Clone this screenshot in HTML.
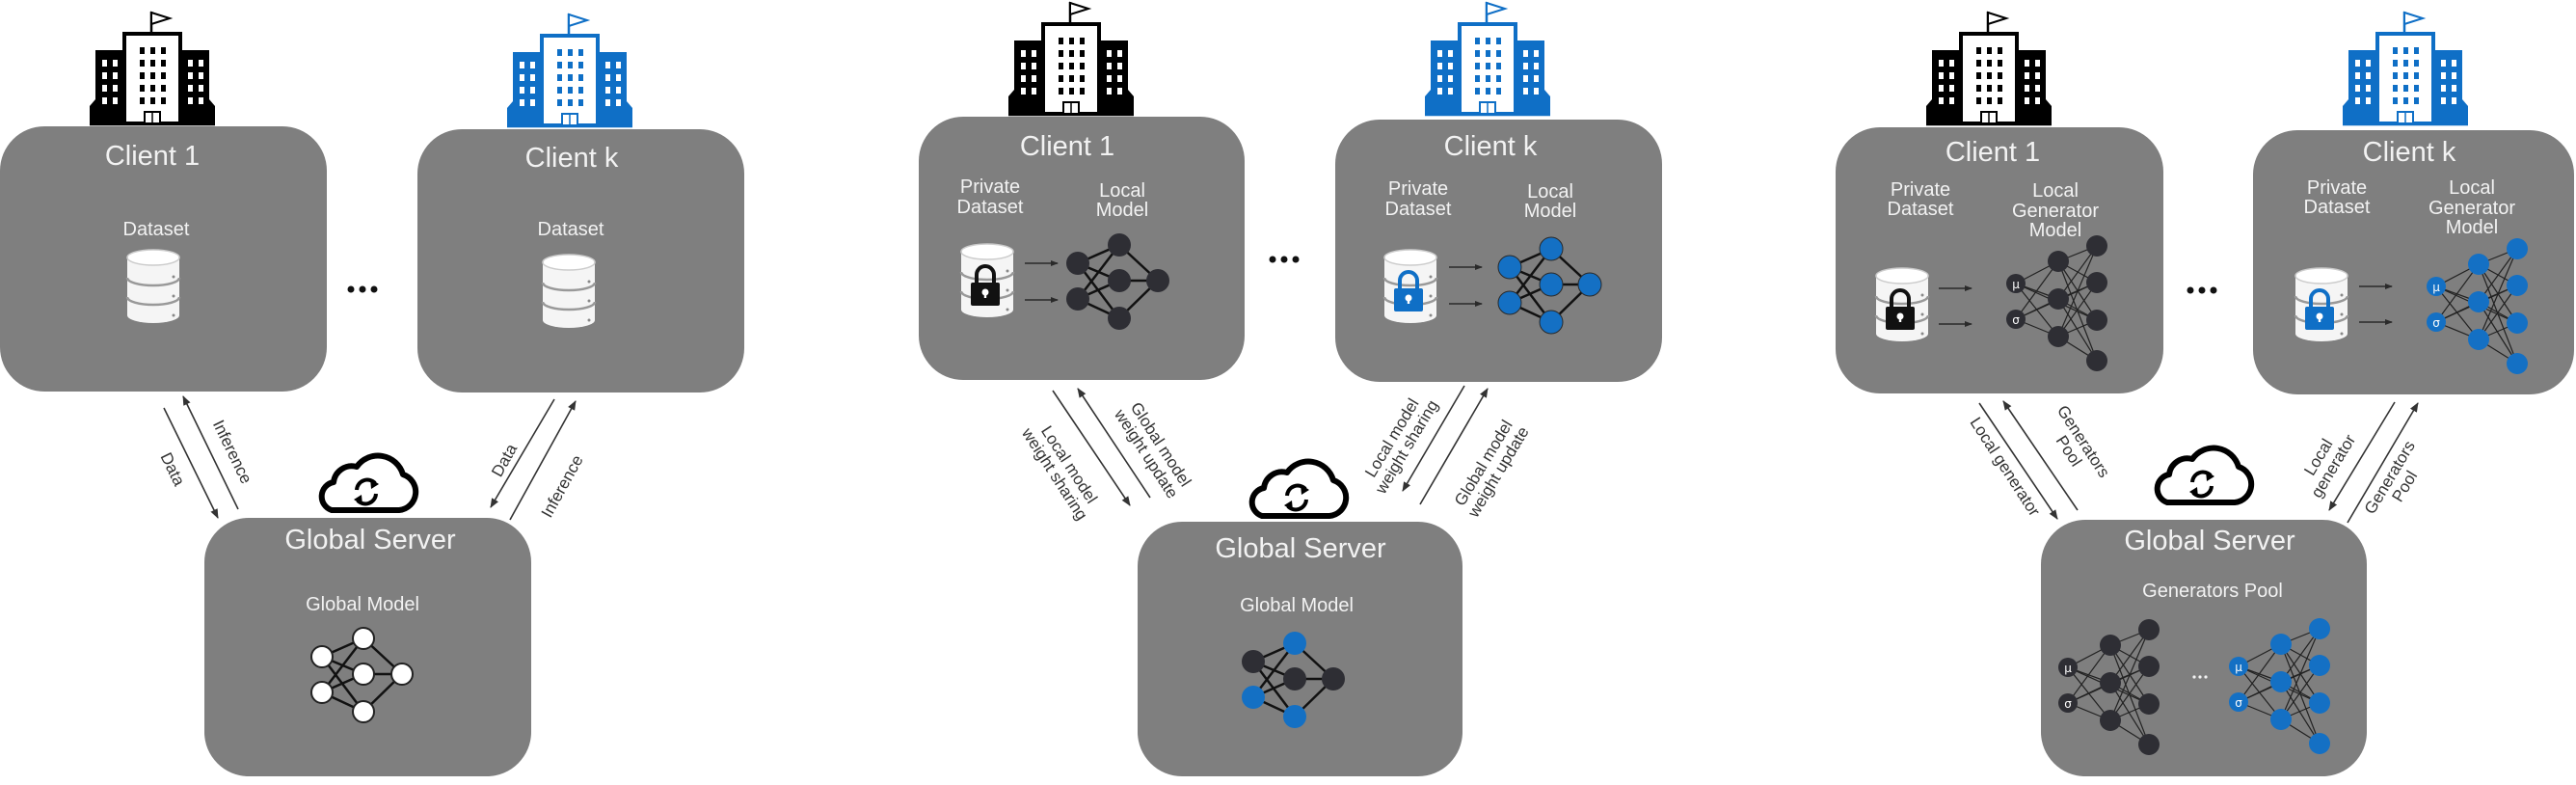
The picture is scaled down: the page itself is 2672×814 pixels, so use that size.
<!DOCTYPE html>
<html><head><meta charset="utf-8"><style>
html,body{margin:0;padding:0;background:#fff;}
svg{display:block;}
.t{font-family:"Liberation Sans",sans-serif;fill:#f2f2f2;text-anchor:middle;}
.h{font-size:29px;}
.s{font-size:20px;}
.l{font-family:"Liberation Sans",sans-serif;fill:#333;font-size:17px;text-anchor:middle;}
.box{fill:#7f7f7f;}
.ar{stroke:#333;stroke-width:1.6;fill:none;marker-end:url(#ah);}
</style></head><body>
<svg width="2672" height="814" viewBox="0 0 2672 814" xmlns="http://www.w3.org/2000/svg">
<defs>
<marker id="ah" markerWidth="10" markerHeight="10" refX="9" refY="5" orient="auto" markerUnits="userSpaceOnUse">
<path d="M0,1 L10,5 L0,9 Z" fill="#333"/></marker>
<marker id="ah2" markerWidth="8" markerHeight="8" refX="7" refY="4" orient="auto" markerUnits="userSpaceOnUse">
<path d="M0,1 L8,4 L0,7 Z" fill="#2a2a2a"/></marker>
<g id="bld">
<line x1="64" y1="0" x2="64" y2="22" stroke="currentColor" stroke-width="2.5"/>
<path d="M64,1 L83,7 L64,13 Z" fill="#fff" stroke="currentColor" stroke-width="2"/>
<rect x="36" y="23" width="58" height="93" fill="#fff" stroke="currentColor" stroke-width="4"/>
<path d="M6,40 H34 V116 H0 V98 L6,91 Z" fill="currentColor"/>
<path d="M96,40 H124 V91 L130,98 V116 H96 Z" fill="currentColor"/>
<g fill="#fff">
<rect x="13" y="50" width="5" height="7"/><rect x="24" y="50" width="5" height="7"/>
<rect x="13" y="63" width="5" height="7"/><rect x="24" y="63" width="5" height="7"/>
<rect x="13" y="76" width="5" height="7"/><rect x="24" y="76" width="5" height="7"/>
<rect x="13" y="89" width="5" height="7"/><rect x="24" y="89" width="5" height="7"/>
<rect x="102" y="50" width="5" height="7"/><rect x="113" y="50" width="5" height="7"/>
<rect x="102" y="63" width="5" height="7"/><rect x="113" y="63" width="5" height="7"/>
<rect x="102" y="76" width="5" height="7"/><rect x="113" y="76" width="5" height="7"/>
<rect x="102" y="89" width="5" height="7"/><rect x="113" y="89" width="5" height="7"/>
</g>
<g fill="currentColor">
<rect x="52" y="37" width="5" height="7"/><rect x="63" y="37" width="5" height="7"/><rect x="74" y="37" width="5" height="7"/>
<rect x="52" y="50" width="5" height="7"/><rect x="63" y="50" width="5" height="7"/><rect x="74" y="50" width="5" height="7"/>
<rect x="52" y="63" width="5" height="7"/><rect x="63" y="63" width="5" height="7"/><rect x="74" y="63" width="5" height="7"/>
<rect x="52" y="76" width="5" height="7"/><rect x="63" y="76" width="5" height="7"/><rect x="74" y="76" width="5" height="7"/>
<rect x="52" y="89" width="5" height="7"/><rect x="63" y="89" width="5" height="7"/><rect x="74" y="89" width="5" height="7"/>
</g>
<rect x="57" y="104" width="16" height="12" fill="#fff" stroke="currentColor" stroke-width="2"/>
<line x1="65" y1="104" x2="65" y2="116" stroke="currentColor" stroke-width="1.5"/>
<line x1="0" y1="117" x2="130" y2="117" stroke="currentColor" stroke-width="2.5"/>
</g>
<g id="db">
<path d="M-27,-30 V30 A27,8 0 0 0 27,30 V-30 Z" fill="#f5f5f5"/>
<ellipse cx="0" cy="-30" rx="27" ry="8" fill="#fff" stroke="#ccc" stroke-width="1.5"/>
<path d="M-27,-9 A27,8 0 0 0 27,-9" fill="none" stroke="#999" stroke-width="2.5"/>
<path d="M-27,11 A27,8 0 0 0 27,11" fill="none" stroke="#999" stroke-width="2.5"/>
<circle cx="21" cy="-10" r="1.5" fill="#888"/><circle cx="21" cy="10" r="1.5" fill="#888"/><circle cx="21" cy="30" r="1.5" fill="#888"/>
</g>
<g id="lock">
<path d="M-9,-4 V-12 A9,9 0 0 1 9,-12 V-4" fill="none" stroke="currentColor" stroke-width="4"/>
<rect x="-15" y="-4" width="30" height="24" rx="2" fill="currentColor"/>
<circle cx="0" cy="6" r="3.5" fill="#fff"/><rect x="-1.2" y="6" width="2.4" height="6" fill="#fff"/>
</g>
<g id="cloud">
<path d="M-36,27 H34 A19,19 0 0 0 38,-10 A27,27 0 0 0 -10,-18 A19,19 0 0 0 -34,-2 A15,15 0 0 0 -36,27 Z" fill="#fff" stroke="#000" stroke-width="6" stroke-linejoin="round"/>
<path d="M-10,6 A11,11 0 0 1 9,-1" fill="none" stroke="#000" stroke-width="4"/>
<path d="M4,-6 L13,0 L5,5 Z" fill="#000"/>
<path d="M10,10 A11,11 0 0 1 -9,17" fill="none" stroke="#000" stroke-width="4"/>
<path d="M-4,22 L-13,16 L-5,11 Z" fill="#000"/>
</g>
<g id="e1" stroke="#111" stroke-width="2.5">
<line x1="0" y1="0" x2="43" y2="-19"/><line x1="0" y1="0" x2="43" y2="18"/><line x1="0" y1="0" x2="43" y2="57"/>
<line x1="0" y1="37" x2="43" y2="-19"/><line x1="0" y1="37" x2="43" y2="18"/><line x1="0" y1="37" x2="43" y2="57"/>
<line x1="43" y1="-19" x2="83" y2="18"/><line x1="43" y1="18" x2="83" y2="18"/><line x1="43" y1="57" x2="83" y2="18"/>
</g>
<g id="e2" stroke="#222" stroke-width="1.2">
<line x1="0" y1="0" x2="44" y2="-23"/><line x1="0" y1="0" x2="44" y2="16"/><line x1="0" y1="0" x2="44" y2="55"/>
<line x1="0" y1="37" x2="44" y2="-23"/><line x1="0" y1="37" x2="44" y2="16"/><line x1="0" y1="37" x2="44" y2="55"/>
<line x1="0" y1="0" x2="84" y2="38"/><line x1="0" y1="37" x2="84" y2="-1"/>
<line x1="44" y1="-23" x2="84" y2="-39"/><line x1="44" y1="-23" x2="84" y2="-1"/><line x1="44" y1="-23" x2="84" y2="38"/><line x1="44" y1="-23" x2="84" y2="80"/>
<line x1="44" y1="16" x2="84" y2="-39"/><line x1="44" y1="16" x2="84" y2="-1"/><line x1="44" y1="16" x2="84" y2="38"/><line x1="44" y1="16" x2="84" y2="80"/>
<line x1="44" y1="55" x2="84" y2="-39"/><line x1="44" y1="55" x2="84" y2="-1"/><line x1="44" y1="55" x2="84" y2="38"/><line x1="44" y1="55" x2="84" y2="80"/>
</g>
</defs>

<!-- ================= PANEL 1 ================= -->
<use href="#bld" x="93" y="12" color="#000"/>
<use href="#bld" x="526" y="14" color="#0f6fc6"/>
<rect class="box" x="0" y="131" width="339" height="275" rx="46"/>
<rect class="box" x="433" y="134" width="339" height="273" rx="46"/>
<rect class="box" x="212" y="537" width="339" height="268" rx="46"/>
<text class="t h" x="158" y="171">Client 1</text>
<text class="t s" x="162" y="244">Dataset</text>
<use href="#db" x="159" y="297"/>
<text class="t h" x="593" y="173">Client k</text>
<text class="t s" x="592" y="244">Dataset</text>
<use href="#db" x="590" y="302"/>
<g fill="#111"><circle cx="364" cy="300" r="3.5"/><circle cx="376" cy="300" r="3.5"/><circle cx="388" cy="300" r="3.5"/></g>
<use href="#cloud" x="380" y="502"/>
<text class="t h" x="384" y="569">Global Server</text>
<text class="t s" x="376" y="633">Global Model</text>
<g transform="translate(334,681)">
<use href="#e1"/>
<g fill="#fff" stroke="#222" stroke-width="2">
<circle cx="0" cy="0" r="11"/><circle cx="0" cy="37" r="11"/><circle cx="43" cy="-19" r="11"/><circle cx="43" cy="18" r="11"/><circle cx="43" cy="57" r="11"/><circle cx="83" cy="18" r="11"/></g>
</g>
<line class="ar" x1="170" y1="423" x2="226" y2="537"/>
<line class="ar" x1="247" y1="528" x2="190" y2="411"/>
<text class="l" transform="translate(174,489) rotate(64)">Data</text>
<text class="l" transform="translate(236,471) rotate(64)">Inference</text>
<line class="ar" x1="575" y1="414" x2="509" y2="526"/>
<line class="ar" x1="529" y1="539" x2="597" y2="416"/>
<text class="l" transform="translate(528,480) rotate(-61)">Data</text>
<text class="l" transform="translate(588,507) rotate(-61)">Inference</text>

<!-- ================= PANEL 2 ================= -->
<use href="#bld" x="1046" y="2" color="#000"/>
<use href="#bld" x="1478" y="2" color="#0f6fc6"/>
<rect class="box" x="953" y="121" width="338" height="273" rx="46"/>
<rect class="box" x="1385" y="124" width="339" height="272" rx="46"/>
<rect class="box" x="1180" y="541" width="337" height="264" rx="46"/>
<text class="t h" x="1107" y="161">Client 1</text>
<text class="t s" x="1027" y="200">Private</text>
<text class="t s" x="1027" y="221">Dataset</text>
<text class="t s" x="1164" y="204">Local</text>
<text class="t s" x="1164" y="224">Model</text>
<use href="#db" x="1024" y="291"/>
<use href="#lock" x="1022" y="297" color="#111"/>
<line x1="1063" y1="273" x2="1097" y2="273" stroke="#2a2a2a" stroke-width="1.5" marker-end="url(#ah2)"/>
<line x1="1063" y1="311" x2="1097" y2="311" stroke="#2a2a2a" stroke-width="1.5" marker-end="url(#ah2)"/>
<g transform="translate(1118,273)">
<use href="#e1"/>
<g fill="#2e2e34"><circle cx="0" cy="0" r="12"/><circle cx="0" cy="37" r="12"/><circle cx="43" cy="-19" r="12"/><circle cx="43" cy="18" r="12"/><circle cx="43" cy="57" r="12"/><circle cx="83" cy="18" r="12"/></g>
</g>
<text class="t h" x="1546" y="161">Client k</text>
<text class="t s" x="1471" y="202">Private</text>
<text class="t s" x="1471" y="223">Dataset</text>
<text class="t s" x="1608" y="205">Local</text>
<text class="t s" x="1608" y="225">Model</text>
<use href="#db" x="1463" y="297"/>
<use href="#lock" x="1461" y="303" color="#0f6fc6"/>
<line x1="1503" y1="277" x2="1537" y2="277" stroke="#2a2a2a" stroke-width="1.5" marker-end="url(#ah2)"/>
<line x1="1503" y1="315" x2="1537" y2="315" stroke="#2a2a2a" stroke-width="1.5" marker-end="url(#ah2)"/>
<g transform="translate(1566,277)">
<use href="#e1"/>
<g fill="#1470c4" stroke="#2a2a2a" stroke-width="1"><circle cx="0" cy="0" r="12"/><circle cx="0" cy="37" r="12"/><circle cx="43" cy="-19" r="12"/><circle cx="43" cy="18" r="12"/><circle cx="43" cy="57" r="12"/><circle cx="83" cy="18" r="12"/></g>
</g>
<g fill="#111"><circle cx="1320" cy="269" r="3.5"/><circle cx="1332" cy="269" r="3.5"/><circle cx="1344" cy="269" r="3.5"/></g>
<use href="#cloud" x="1345" y="508"/>
<text class="t h" x="1349" y="578">Global Server</text>
<text class="t s" x="1345" y="634">Global Model</text>
<g transform="translate(1300,686)">
<use href="#e1"/>
<circle cx="0" cy="0" r="12" fill="#2e2e34"/><circle cx="0" cy="37" r="12" fill="#1470c4"/><circle cx="43" cy="-19" r="12" fill="#1470c4"/><circle cx="43" cy="18" r="12" fill="#2e2e34"/><circle cx="43" cy="57" r="12" fill="#1470c4"/><circle cx="83" cy="18" r="12" fill="#2e2e34"/>
</g>
<line class="ar" x1="1092" y1="405" x2="1172" y2="524"/>
<line class="ar" x1="1193" y1="516" x2="1118" y2="403"/>
<text class="l" transform="translate(1101,487) rotate(57)"><tspan x="0" dy="-4">Local model</tspan><tspan x="0" dy="18">weight sharing</tspan></text>
<text class="l" transform="translate(1196,466) rotate(57)"><tspan x="0" dy="-4">Global model</tspan><tspan x="0" dy="18">weight update</tspan></text>
<line class="ar" x1="1519" y1="400" x2="1455" y2="509"/>
<line class="ar" x1="1473" y1="523" x2="1543" y2="403"/>
<text class="l" transform="translate(1452,459) rotate(-59)"><tspan x="0" dy="-4">Local model</tspan><tspan x="0" dy="18">weight sharing</tspan></text>
<text class="l" transform="translate(1547,485) rotate(-59)"><tspan x="0" dy="-4">Global model</tspan><tspan x="0" dy="18">weight update</tspan></text>

<!-- ================= PANEL 3 ================= -->
<use href="#bld" x="1998" y="12" color="#000"/>
<use href="#bld" x="2430" y="12" color="#0f6fc6"/>
<rect class="box" x="1904" y="132" width="340" height="276" rx="46"/>
<rect class="box" x="2337" y="135" width="333" height="274" rx="46"/>
<rect class="box" x="2117" y="539" width="338" height="266" rx="46"/>
<text class="t h" x="2067" y="167">Client 1</text>
<text class="t s" x="1992" y="203">Private</text>
<text class="t s" x="1992" y="223">Dataset</text>
<text class="t s" x="2132" y="204">Local</text>
<text class="t s" x="2132" y="225">Generator</text>
<text class="t s" x="2132" y="245">Model</text>
<use href="#db" x="1973" y="316"/>
<use href="#lock" x="1971" y="322" color="#111"/>
<line x1="2011" y1="299" x2="2045" y2="299" stroke="#2a2a2a" stroke-width="1.5" marker-end="url(#ah2)"/>
<line x1="2011" y1="336" x2="2045" y2="336" stroke="#2a2a2a" stroke-width="1.5" marker-end="url(#ah2)"/>
<g transform="translate(2091,294)">
<use href="#e2"/>
<g fill="#2e2e34"><circle cx="0" cy="0" r="10"/><circle cx="0" cy="37" r="10"/><circle cx="44" cy="-23" r="11"/><circle cx="44" cy="16" r="11"/><circle cx="44" cy="55" r="11"/><circle cx="84" cy="-39" r="11"/><circle cx="84" cy="-1" r="11"/><circle cx="84" cy="38" r="11"/><circle cx="84" cy="80" r="11"/></g>
<text x="0" y="5" font-family="DejaVu Sans,sans-serif" font-size="12" fill="#fff" text-anchor="middle">μ</text>
<text x="0" y="42" font-family="DejaVu Sans,sans-serif" font-size="12" fill="#fff" text-anchor="middle">σ</text>
</g>
<text class="t h" x="2499" y="167">Client k</text>
<text class="t s" x="2424" y="201">Private</text>
<text class="t s" x="2424" y="221">Dataset</text>
<text class="t s" x="2564" y="201">Local</text>
<text class="t s" x="2564" y="222">Generator</text>
<text class="t s" x="2564" y="242">Model</text>
<use href="#db" x="2408" y="316"/>
<use href="#lock" x="2406" y="322" color="#0f6fc6"/>
<line x1="2447" y1="297" x2="2481" y2="297" stroke="#2a2a2a" stroke-width="1.5" marker-end="url(#ah2)"/>
<line x1="2447" y1="334" x2="2481" y2="334" stroke="#2a2a2a" stroke-width="1.5" marker-end="url(#ah2)"/>
<g transform="translate(2527,297)">
<use href="#e2"/>
<g fill="#1470c4"><circle cx="0" cy="0" r="10"/><circle cx="0" cy="37" r="10"/><circle cx="44" cy="-23" r="11"/><circle cx="44" cy="16" r="11"/><circle cx="44" cy="55" r="11"/><circle cx="84" cy="-39" r="11"/><circle cx="84" cy="-1" r="11"/><circle cx="84" cy="38" r="11"/><circle cx="84" cy="80" r="11"/></g>
<text x="0" y="5" font-family="DejaVu Sans,sans-serif" font-size="12" fill="#fff" text-anchor="middle">μ</text>
<text x="0" y="42" font-family="DejaVu Sans,sans-serif" font-size="12" fill="#fff" text-anchor="middle">σ</text>
</g>
<g fill="#111"><circle cx="2272" cy="301" r="3.5"/><circle cx="2284" cy="301" r="3.5"/><circle cx="2296" cy="301" r="3.5"/></g>
<use href="#cloud" x="2284" y="494"/>
<text class="t h" x="2292" y="570">Global Server</text>
<text class="t s" x="2295" y="619">Generators Pool</text>
<g transform="translate(2145,692)">
<use href="#e2"/>
<g fill="#2e2e34"><circle cx="0" cy="0" r="10"/><circle cx="0" cy="37" r="10"/><circle cx="44" cy="-23" r="11"/><circle cx="44" cy="16" r="11"/><circle cx="44" cy="55" r="11"/><circle cx="84" cy="-39" r="11"/><circle cx="84" cy="-1" r="11"/><circle cx="84" cy="38" r="11"/><circle cx="84" cy="80" r="11"/></g>
<text x="0" y="5" font-family="DejaVu Sans,sans-serif" font-size="12" fill="#fff" text-anchor="middle">μ</text>
<text x="0" y="42" font-family="DejaVu Sans,sans-serif" font-size="12" fill="#fff" text-anchor="middle">σ</text>
</g>
<g fill="#f2f2f2"><circle cx="2276" cy="702" r="1.6"/><circle cx="2282" cy="702" r="1.6"/><circle cx="2288" cy="702" r="1.6"/></g>
<g transform="translate(2322,691)">
<use href="#e2"/>
<g fill="#1470c4"><circle cx="0" cy="0" r="10"/><circle cx="0" cy="37" r="10"/><circle cx="44" cy="-23" r="11"/><circle cx="44" cy="16" r="11"/><circle cx="44" cy="55" r="11"/><circle cx="84" cy="-39" r="11"/><circle cx="84" cy="-1" r="11"/><circle cx="84" cy="38" r="11"/><circle cx="84" cy="80" r="11"/></g>
<text x="0" y="5" font-family="DejaVu Sans,sans-serif" font-size="12" fill="#fff" text-anchor="middle">μ</text>
<text x="0" y="42" font-family="DejaVu Sans,sans-serif" font-size="12" fill="#fff" text-anchor="middle">σ</text>
</g>
<line class="ar" x1="2053" y1="418" x2="2134" y2="538"/>
<line class="ar" x1="2155" y1="529" x2="2078" y2="416"/>
<text class="l" transform="translate(2075,487) rotate(57)">Local generator</text>
<text class="l" transform="translate(2153,463) rotate(57)"><tspan x="0" dy="-4">Generators</tspan><tspan x="0" dy="18">Pool</tspan></text>
<line class="ar" x1="2484" y1="417" x2="2416" y2="529"/>
<line class="ar" x1="2435" y1="542" x2="2508" y2="418"/>
<text class="l" transform="translate(2413,479) rotate(-59)"><tspan x="0" dy="-4">Local</tspan><tspan x="0" dy="18">generator</tspan></text>
<text class="l" transform="translate(2487,500) rotate(-59)"><tspan x="0" dy="-4">Generators</tspan><tspan x="0" dy="18">Pool</tspan></text>
</svg>
</body></html>
